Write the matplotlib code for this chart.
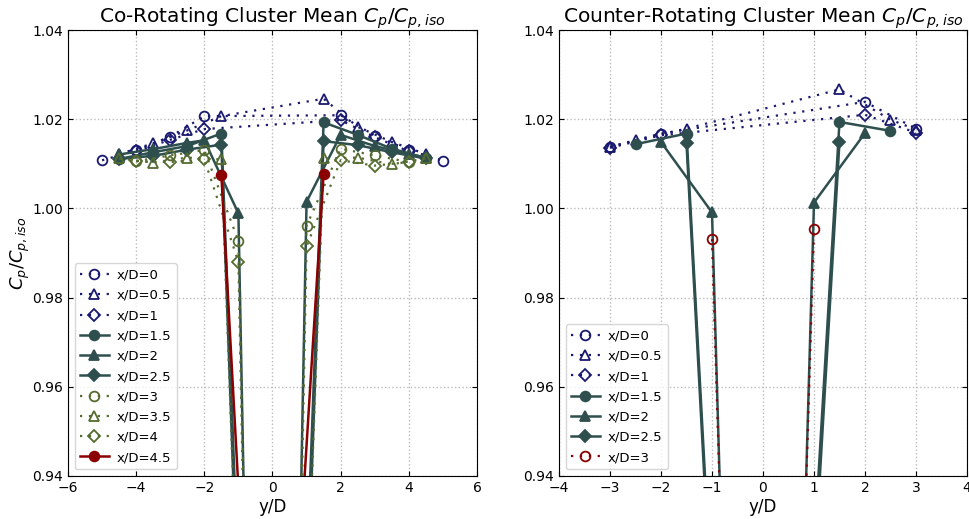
import numpy as np
import matplotlib
matplotlib.use('Agg')
import matplotlib.pyplot as plt

# 颜色
c_blue = 'midnightblue'
c_dark = 'darkslategray'
c_olive = 'darkolivegreen'
c_red = 'darkred'

# Co-rotating 数据 (y/D, Cp/Cp_iso)
co_y_0 = [-5, -4, -3, -2, 2, 3, 4, 5]
co_cp_0 = [1.0108, 1.0130, 1.0161, 1.0207, 1.0209, 1.0163, 1.0131, 1.0107]
co_y_05 = [-4.5, -3.5, -2.5, -1.5, 1.5, 2.5, 3.5, 4.5]
co_cp_05 = [1.0122, 1.0146, 1.0175, 1.0207, 1.0246, 1.0183, 1.0149, 1.0122]
co_y_1 = [-4, -3, -2, 2, 3, 4]
co_cp_1 = [1.0128, 1.0154, 1.0178, 1.0198, 1.0160, 1.0128]
co_y_15 = [-4.5, -3.5, -2.5, -1.5, -0.5, 0.5, 1.5, 2.5, 3.5, 4.5]
co_cp_15 = [1.0111, 1.0126, 1.0140, 1.0168, 0.816, 0.817, 1.0193, 1.0165, 1.0134, 1.0113]
co_y_2 = [-4.5, -3.5, -2.5, -2, -1, 0, 1, 2, 3, 4, 4.5]
co_cp_2 = [1.0121, 1.0133, 1.0147, 1.0153, 0.9989, 0.60, 1.0015, 1.0165, 1.0140, 1.0122, 1.0114]
co_y_25 = [-4.5, -3.5, -2.5, -1.5, -0.5, 0.5, 1.5, 2.5, 3.5, 4.5]
co_cp_25 = [1.0111, 1.0118, 1.0132, 1.0143, 0.80, 0.80, 1.0151, 1.0142, 1.0126, 1.0112]
co_y_3 = [-4, -3, -2, -1, 0, 1, 2, 3, 4]
co_cp_3 = [1.0106, 1.0119, 1.0131, 0.9927, 0.63, 0.9961, 1.0134, 1.0119, 1.0104]
co_y_35 = [-4.5, -3.5, -2.5, -1.5, -0.5, 0.5, 1.5, 2.5, 3.5, 4.5]
co_cp_35 = [1.0112, 1.0103, 1.0114, 1.0110, 0.80, 0.80, 1.0112, 1.0114, 1.0099, 1.0112]
co_y_4 = [-4, -3, -2, -1, 0, 1, 2, 3, 4]
co_cp_4 = [1.0106, 1.0104, 1.0110, 0.9880, 0.60, 0.9915, 1.0108, 1.0096, 1.0104]
co_y_45 = [-1.5, -0.5, 0.5, 1.5]
co_cp_45 = [1.0075, 0.867, 0.886, 1.0078]

# Counter-rotating 数据
ct_y_0 = [-3, -2, 2, 3]
ct_cp_0 = [1.0138, 1.0168, 1.0239, 1.0179]
ct_y_05 = [-3, -2.5, -1.5, 1.5, 2.5, 3]
ct_cp_05 = [1.0138, 1.0153, 1.0179, 1.0267, 1.0199, 1.0177]
ct_y_1 = [-3, -2, 2, 3]
ct_cp_1 = [1.0136, 1.0164, 1.0210, 1.0170]
ct_y_15 = [-2.5, -1.5, -0.5, 0.5, 1.5, 2.5]
ct_cp_15 = [1.0144, 1.0168, 0.805, 0.827, 1.0194, 1.0174]
ct_y_2 = [-2, -1, 0, 1, 2]
ct_cp_2 = [1.0149, 0.9991, 0.60, 1.0013, 1.0169]
ct_y_25 = [-1.5, -0.5, 0.5, 1.5]
ct_cp_25 = [1.0146, 0.80, 0.82, 1.0150]
ct_y_3 = [-1, 0, 1]
ct_cp_3 = [0.9931, 0.62, 0.9954]

DOT = (0, (1, 3))

co_series = [
    ('x/D=0', co_y_0, co_cp_0, c_blue, 'o', DOT, False),
    ('x/D=0.5', co_y_05, co_cp_05, c_blue, '^', DOT, False),
    ('x/D=1', co_y_1, co_cp_1, c_blue, 'D', DOT, False),
    ('x/D=1.5', co_y_15, co_cp_15, c_dark, 'o', '-', True),
    ('x/D=2', co_y_2, co_cp_2, c_dark, '^', '-', True),
    ('x/D=2.5', co_y_25, co_cp_25, c_dark, 'D', '-', True),
    ('x/D=3', co_y_3, co_cp_3, c_olive, 'o', DOT, False),
    ('x/D=3.5', co_y_35, co_cp_35, c_olive, '^', DOT, False),
    ('x/D=4', co_y_4, co_cp_4, c_olive, 'D', DOT, False),
    ('x/D=4.5', co_y_45, co_cp_45, c_red, 'o', '-', True),
]
ct_series = [
    ('x/D=0', ct_y_0, ct_cp_0, c_blue, 'o', DOT, False),
    ('x/D=0.5', ct_y_05, ct_cp_05, c_blue, '^', DOT, False),
    ('x/D=1', ct_y_1, ct_cp_1, c_blue, 'D', DOT, False),
    ('x/D=1.5', ct_y_15, ct_cp_15, c_dark, 'o', '-', True),
    ('x/D=2', ct_y_2, ct_cp_2, c_dark, '^', '-', True),
    ('x/D=2.5', ct_y_25, ct_cp_25, c_dark, 'D', '-', True),
    ('x/D=3', ct_y_3, ct_cp_3, c_red, 'o', DOT, False),
]


def draw(ax, series, title, xlim, xticks):
    for lab, y, cp, col, mk, ls, filled in series:
        ms = 7 if mk != 'D' else 6.5
        ax.plot(y, cp, linestyle=ls, marker=mk, color=col, label=lab,
                lw=1.8 if ls == '-' else 1.6, ms=ms,
                mfc=col if filled else 'none', mew=1.3)
    ax.set_xlim(xlim)
    ax.set_ylim(0.94, 1.04)
    ax.set_xticks(xticks)
    ax.set_yticks([0.94, 0.96, 0.98, 1.00, 1.02, 1.04])
    ax.yaxis.set_major_formatter(matplotlib.ticker.FormatStrFormatter('%.2f'))
    ax.tick_params(direction='in', labelsize=10, top=True, right=True)
    ax.grid(True, linestyle=':', color='#bbbbbb', lw=1)
    ax.set_xlabel('y/D', fontsize=12, labelpad=2)
    ax.set_title(title, fontsize=14.5, pad=5)
    ax.legend(loc='lower left', fontsize=9.5, handlelength=2.2, handletextpad=0.6,
              borderaxespad=0.5, labelspacing=0.55, borderpad=0.4)


fig = plt.figure(figsize=(9.69, 5.19), dpi=100)
ax1 = fig.add_axes([0.0702, 0.083, 0.422, 0.859])
ax2 = fig.add_axes([0.5769, 0.083, 0.421, 0.859])

draw(ax1, co_series, 'Co-Rotating Cluster Mean $C_p/C_{p,iso}$', (-6, 6), range(-6, 7, 2))
ax1.set_ylabel('$C_p/C_{p,iso}$', fontsize=13, labelpad=0)
draw(ax2, ct_series, 'Counter-Rotating Cluster Mean $C_p/C_{p,iso}$', (-4, 4), range(-4, 5))

fig.savefig('out.png', dpi=100)
